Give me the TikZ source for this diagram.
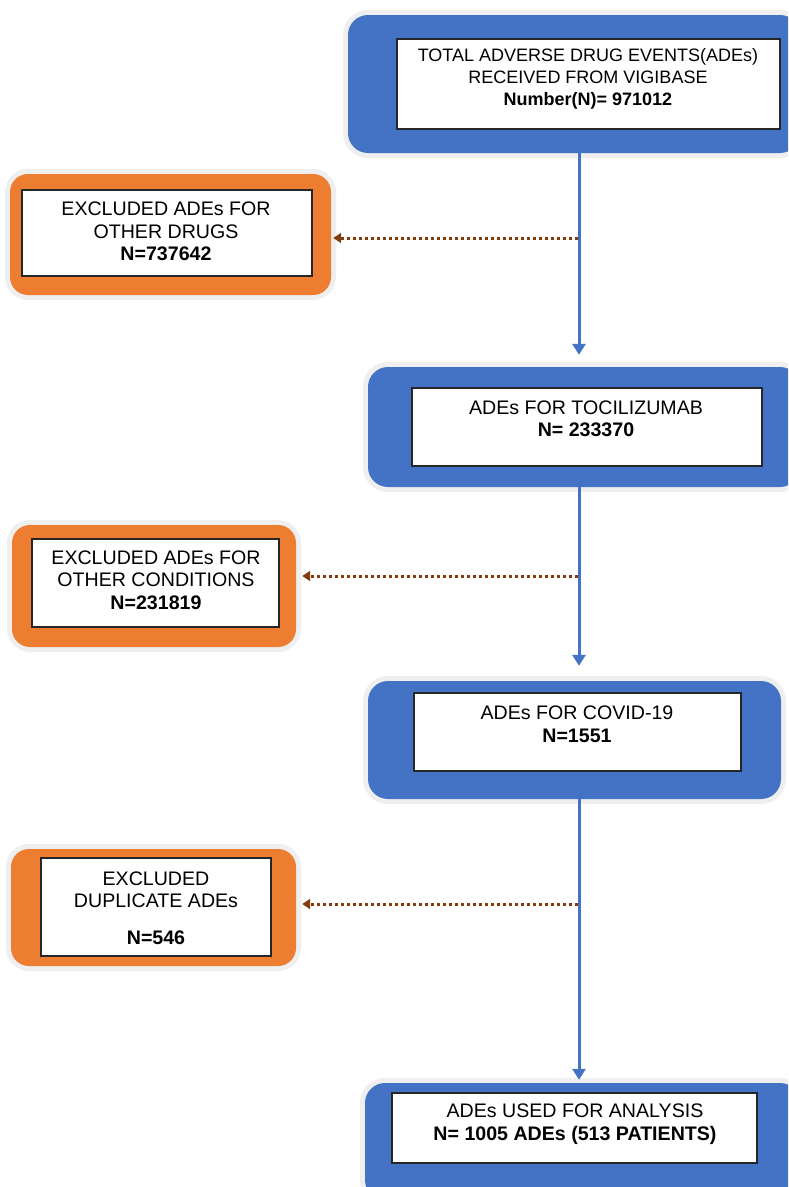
\documentclass[tikz,border=0pt]{standalone}
\usepackage{fontspec}
\setmainfont{Liberation Sans}
\usetikzlibrary{arrows.meta}
\definecolor{bluebox}{HTML}{4472C4}
\definecolor{orangebox}{HTML}{ED7D31}
\definecolor{dotbrown}{HTML}{843C0C}
\definecolor{glow}{HTML}{EFEFEF}
\tikzset{
  outerblue/.style={rectangle, rounded corners=20pt, fill=bluebox, preaction={draw=glow, line width=10pt}, inner sep=0pt},
  outerorange/.style={rectangle, rounded corners=18pt, fill=orangebox, preaction={draw=glow, line width=10pt}, inner sep=0pt},
  innerbox/.style={rectangle, fill=white, draw=black!85, line width=1.3pt, inner sep=0pt},
  lbl/.style={align=center, font=\fontsize{19.6}{22.5}\selectfont, inner sep=0pt},
  lbltop/.style={align=center, font=\fontsize{18}{22}\selectfont, inner sep=0pt},
  flow/.style={draw=bluebox, line width=3pt, -{Triangle[width=13pt,length=11pt]}},
  excl/.style={draw=dotbrown, line width=3pt, dash pattern=on 3pt off 3pt, -{Triangle[width=10pt,length=8pt]}},
}
\begin{document}
\begin{tikzpicture}[x=1pt,y=-1pt]
\useasboundingbox (0,0) rectangle (788,1187);
\clip (0,0) rectangle (788,1187);
\fill[white] (0,0) rectangle (788,1187);
% blue boxes
\node[outerblue, minimum width=452pt, minimum height=138pt] (b1) at (574,84) {};
\node[innerbox, minimum width=383pt, minimum height=90pt] (i1) at (588.5,84) {};
\node[lbltop] (t1) at (588,79) {TOTAL ADVERSE DRUG EVENTS(ADEs)\\RECEIVED FROM VIGIBASE\\\textbf{Number(N)= 971012}};

\node[outerblue, minimum width=432pt, minimum height=120pt] (b2) at (584,427) {};
\node[innerbox, minimum width=350pt, minimum height=78pt] (i2) at (587,427) {};
\node[lbl] (t2) at (586,419) {ADEs FOR TOCILIZUMAB\\\textbf{N= 233370}};

\node[outerblue, minimum width=413pt, minimum height=118pt] (b3) at (574.5,740) {};
\node[innerbox, minimum width=327pt, minimum height=78pt] (i3) at (577.5,732) {};
\node[lbl] (t3) at (577,724) {ADEs FOR COVID-19\\\textbf{N=1551}};

\node[outerblue, minimum width=435pt, minimum height=117pt] (b4) at (582.5,1141.5) {};
\node[innerbox, minimum width=365pt, minimum height=70pt] (i4) at (574.5,1128) {};
\node[lbl] (t4) at (575,1124) {ADEs USED FOR ANALYSIS\\\textbf{N= 1005 ADEs (513 PATIENTS)}};

% orange boxes
\node[outerorange, minimum width=321pt, minimum height=121pt] (o1) at (170.5,234.5) {};
\node[innerbox, minimum width=290pt, minimum height=86pt] (j1) at (167,233) {};
\node[lbl] (u1) at (166,231.5) {EXCLUDED ADEs FOR\\OTHER DRUGS\\\textbf{N=737642}};

\node[outerorange, minimum width=284pt, minimum height=122pt] (o2) at (154,586) {};
\node[innerbox, minimum width=247pt, minimum height=88pt] (j2) at (155.5,583) {};
\node[lbl] (u2) at (156,580) {EXCLUDED ADEs FOR\\OTHER CONDITIONS\\\textbf{N=231819}};

\node[outerorange, minimum width=285pt, minimum height=117pt] (o3) at (153.5,907.5) {};
\node[innerbox, minimum width=230pt, minimum height=98pt] (j3) at (156,907) {};
\node[lbl] (u3) at (156,889.5) {EXCLUDED\\DUPLICATE ADEs};
\node[lbl] (u3n) at (156,938) {\textbf{N=546}};

% flow arrows
\coordinate (ax) at (579,0);
\draw[flow, shorten >=12pt] (b1.south -| ax) -- (b2.north -| ax);
\draw[flow, shorten >=15pt] (b2.south -| ax) -- (b3.north -| ax);
\draw[flow, shorten >=3pt] (b3.south -| ax) -- (b4.north -| ax);

% exclusion arrows
\coordinate (d1) at (578,238);
\coordinate (d2) at (578,576);
\coordinate (d3) at (578,904);
\draw[excl, shorten >=2pt] (d1) -- (o1.east |- d1);
\draw[excl, shorten >=6pt] (d2) -- (o2.east |- d2);
\draw[excl, shorten >=6pt] (d3) -- (o3.east |- d3);
\end{tikzpicture}
\end{document}
